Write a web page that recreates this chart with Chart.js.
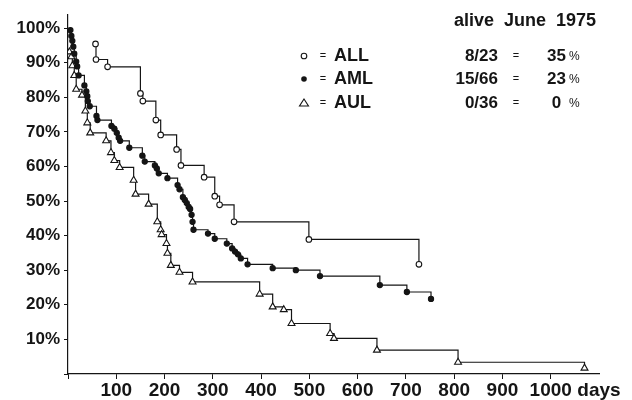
<!DOCTYPE html>
<html>
<head>
<meta charset="utf-8">
<script src="https://cdn.jsdelivr.net/npm/chart.js"></script>
<style>
  body { margin: 0; background: #fff; }
  #wrap { width: 632px; height: 400px; position: relative; }
</style>
</head>
<body>
<div id="wrap"><canvas id="survival"></canvas></div>
<script>
// Survival data (days, % surviving)
const allDays = [57, 58, 82, 150, 155, 182, 192, 225, 234, 282, 304, 314, 344, 499, 727];
const allSurv = [95.4, 90.9, 88.8, 81.1, 78.9, 73.4, 69.1, 64.9, 60.3, 56.9, 51.4, 48.9, 44.0, 38.9, 31.7];

const amlDays = [5, 7, 9, 11, 13, 17, 19, 22, 34, 38, 40, 41, 45, 59, 61, 90, 96, 101, 105, 108,
  127, 154, 159, 180, 184, 188, 206, 227, 231, 238, 242, 246, 250, 253, 256, 258, 260, 290, 304,
  329, 340, 346, 352, 358, 372, 424, 472, 522, 646, 702, 752];
const amlSurv = [99.4, 97.7, 96.3, 94.6, 92.6, 90.3, 88.9, 86.3, 83.4, 81.7, 80.3, 78.9, 77.4, 74.6, 73.4,
  71.7, 70.9, 69.7, 68.3, 67.4, 65.4, 63.1, 61.4, 60.3, 59.4, 58.0, 56.6, 54.6, 53.4, 51.1, 50.3, 49.4,
  48.3, 47.7, 46.0, 44.0, 41.7, 40.6, 39.1, 37.7, 36.3, 35.4, 34.6, 33.4, 31.7, 30.6, 30.0, 28.3, 25.7,
  23.7, 21.7];

const aulDays = [3, 7, 9, 13, 17, 29, 36, 40, 46, 79, 89, 96, 107, 136, 140, 167, 185, 192, 194, 204,
  206, 213, 231, 258, 397, 424, 447, 463, 543, 551, 640, 808, 1070];
const aulSurv = [93.1, 91.7, 89.1, 86.3, 82.3, 80.6, 76.0, 72.6, 69.7, 67.4, 64.0, 61.7, 59.7, 56.0, 52.0,
  49.1, 44.0, 41.7, 40.3, 37.7, 34.9, 31.4, 29.4, 26.6, 23.1, 19.4, 18.6, 14.6, 11.7, 10.3, 6.9, 3.4, 1.7];

// Legend / "alive June 1975" table
const groups = ["ALL", "AML", "AUL"];
const aliveCounts = ["8/23", "15/66", "0/36"];
const alivePct = [35, 23, 0];

// Axis ticks
const xTicks = [100, 200, 300, 400, 500, 600, 700, 800, 900, 1000];
const xUnit = "days";
const yTicks = [10, 20, 30, 40, 50, 60, 70, 80, 90, 100];

const ink = "#151515";

function toPoints(days, surv) {
  return days.map((d, i) => ({ x: d, y: surv[i] }));
}

function drawMarker(ctx, kind, x, y) {
  ctx.save();
  ctx.strokeStyle = ink;
  ctx.lineWidth = 1.1;
  if (kind === 0) {
    ctx.fillStyle = "#fff";
    ctx.beginPath();
    ctx.arc(x, y, 2.8, 0, Math.PI * 2);
    ctx.fill();
    ctx.stroke();
  } else if (kind === 1) {
    ctx.fillStyle = ink;
    ctx.beginPath();
    ctx.arc(x, y, 2.8, 0, Math.PI * 2);
    ctx.fill();
  } else {
    ctx.fillStyle = "#fff";
    ctx.beginPath();
    ctx.moveTo(x, y - 4);
    ctx.lineTo(x + 4.5, y + 3);
    ctx.lineTo(x - 4.5, y + 3);
    ctx.closePath();
    ctx.fill();
    ctx.stroke();
  }
  ctx.restore();
}

// Text block in the upper right
const annotations = {
  id: "annotations",
  afterDraw(chart) {
    const ctx = chart.ctx;
    ctx.save();
    ctx.fillStyle = ink;
    ctx.textBaseline = "middle";

    ctx.font = "bold 18px 'Liberation Sans', Arial, sans-serif";
    ctx.textAlign = "center";
    ctx.fillText("alive  June  1975", 525, 21);

    const rowY = [56, 79, 103];
    groups.forEach((g, i) => {
      const y = rowY[i];
      drawMarker(ctx, i, 304, y);

      ctx.fillStyle = ink;
      ctx.font = "11px 'Liberation Sans', Arial, sans-serif";
      ctx.textAlign = "center";
      ctx.fillText("=", 323, y);
      ctx.fillText("=", 516, y);

      ctx.font = "bold 18px 'Liberation Sans', Arial, sans-serif";
      ctx.textAlign = "left";
      ctx.fillText(g, 334, y);

      ctx.font = "bold 17px 'Liberation Sans', Arial, sans-serif";
      ctx.textAlign = "right";
      ctx.fillText(aliveCounts[i], 498, y);
      ctx.fillText(alivePct[i] === 0 ? "0 " : String(alivePct[i]), 566, y);

      ctx.font = "12px 'Liberation Sans', Arial, sans-serif";
      ctx.textAlign = "left";
      ctx.fillText("%", 569, y + 1);
    });
    ctx.restore();
  }
};

const baseLine = {
  showLine: true,
  stepped: true,
  fill: false,
  borderColor: ink,
  borderWidth: 1.2,
  pointBorderColor: ink,
  pointBorderWidth: 1.1,
  pointHoverRadius: 4
};

new Chart(document.getElementById("survival"), {
  type: "line",
  data: {
    datasets: [
      Object.assign({}, baseLine, {
        label: groups[0],
        data: toPoints(allDays, allSurv),
        pointStyle: "circle",
        pointRadius: 2.8,
        pointBackgroundColor: "#fff"
      }),
      Object.assign({}, baseLine, {
        label: groups[1],
        data: toPoints(amlDays, amlSurv),
        pointStyle: "circle",
        pointRadius: 2.6,
        pointBackgroundColor: ink
      }),
      Object.assign({}, baseLine, {
        label: groups[2],
        data: toPoints(aulDays, aulSurv),
        pointStyle: "triangle",
        pointRadius: 4,
        pointBackgroundColor: "#fff"
      })
    ]
  },
  options: {
    responsive: true,
    maintainAspectRatio: false,
    animation: false,
    layout: { padding: { top: 10, right: 33, bottom: 0, left: 0 } },
    plugins: {
      legend: { display: false },
      tooltip: { enabled: false }
    },
    scales: {
      x: {
        type: "linear",
        min: 0,
        max: 1100,
        afterFit: (scale) => { scale.height = 26; },
        afterBuildTicks: (scale) => {
          scale.ticks = [0].concat(xTicks, [1100]).map((v) => ({ value: v }));
        },
        border: { display: true, color: ink, width: 1.2 },
        grid: {
          drawOnChartArea: false,
          drawTicks: true,
          tickLength: 5,
          color: (c) => (c.tick && c.tick.value > 1000 ? "rgba(0,0,0,0)" : ink)
        },
        ticks: {
          autoSkip: false,
          maxRotation: 0,
          padding: 0,
          color: ink,
          font: { family: "'Liberation Sans', Arial, sans-serif", size: 19, weight: "bold" },
          callback: (v) => (v === 0 ? "" : v > 1000 ? xUnit : String(v))
        }
      },
      y: {
        type: "linear",
        min: 0,
        max: 104,
        afterFit: (scale) => { scale.width = 68; },
        afterBuildTicks: (scale) => {
          scale.ticks = [0].concat(yTicks).map((v) => ({ value: v }));
        },
        border: { display: true, color: ink, width: 1.2 },
        grid: {
          drawOnChartArea: false,
          drawTicks: true,
          tickLength: 4,
          color: ink
        },
        ticks: {
          padding: 4,
          color: ink,
          font: { family: "'Liberation Sans', Arial, sans-serif", size: 17, weight: "bold" },
          callback: (v) => (v === 0 ? "" : v + "%")
        }
      }
    }
  },
  plugins: [annotations]
});
</script>
</body>
</html>
